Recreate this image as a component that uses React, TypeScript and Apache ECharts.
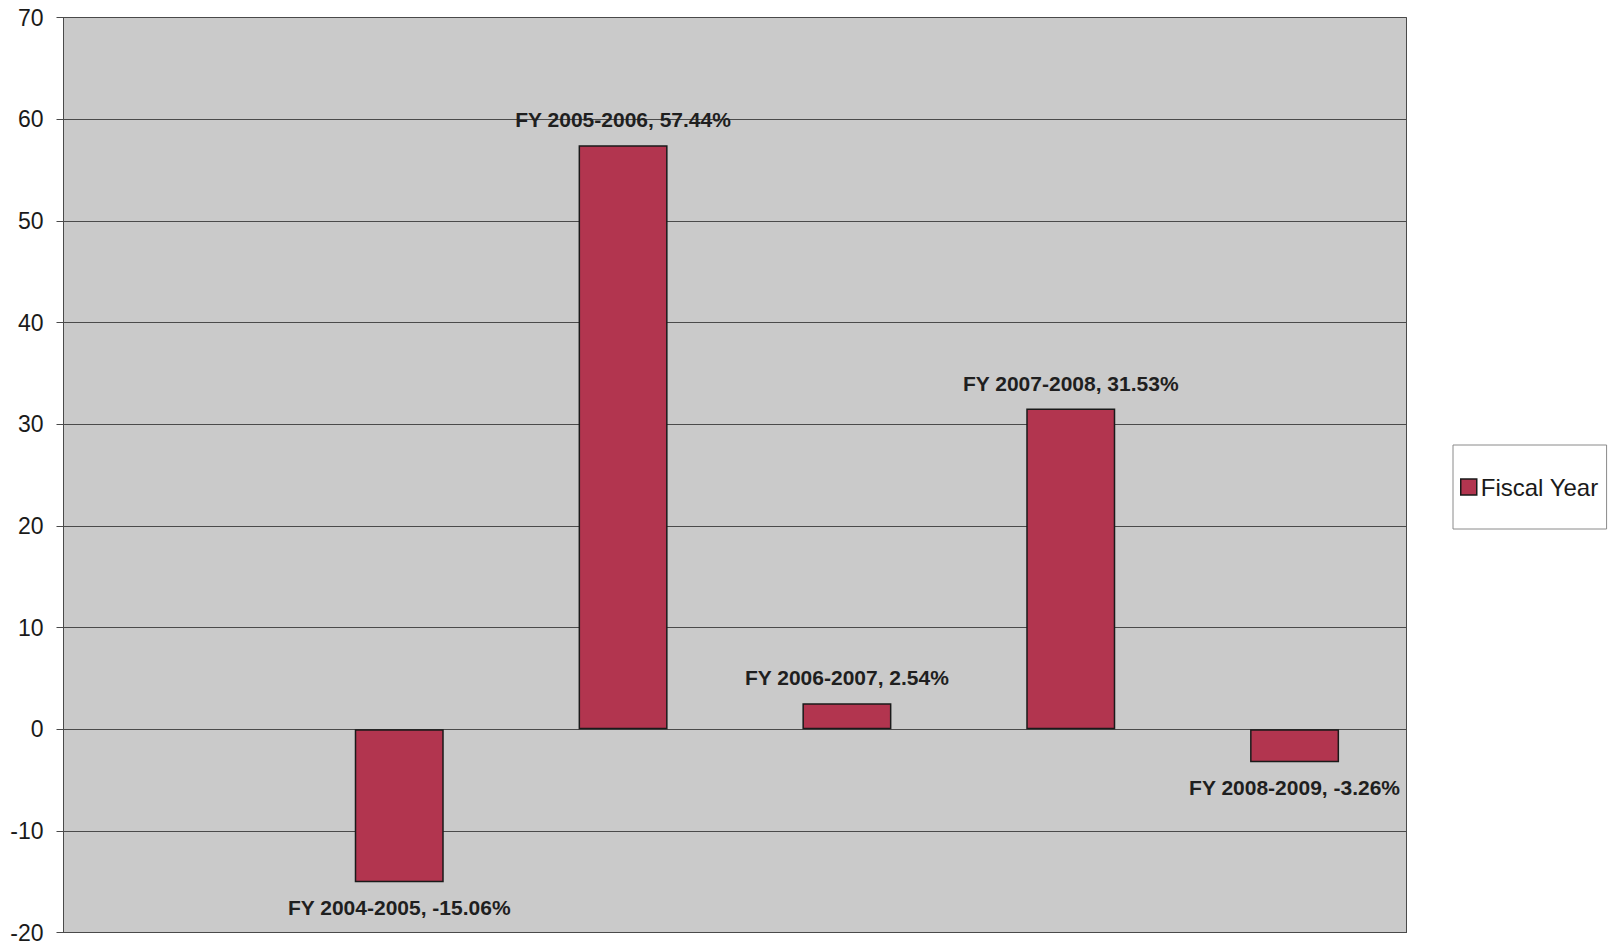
import React, { useEffect, useRef } from "react";
import * as echarts from "echarts";

const categories = ["", "FY 2004-2005", "FY 2005-2006", "FY 2006-2007", "FY 2007-2008", "FY 2008-2009"];
const values: (number | null)[] = [null, -15.06, 57.44, 2.54, 31.53, -3.26];
const seriesName = "Fiscal Year";
const yMin = -20;
const yMax = 70;
const yInterval = 10;

export default function App() {
  const ref = useRef<HTMLDivElement>(null);
  useEffect(() => {
    if (!ref.current) return;
    const chart = echarts.init(ref.current, null, { renderer: "svg" });
    const font = "Liberation Sans, Arial, sans-serif";
    chart.setOption({
      animation: false,
      backgroundColor: "#ffffff",
      grid: {
        left: 63.5,
        top: 17.5,
        width: 1343,
        height: 915,
        show: true,
        backgroundColor: "#cacaca",
        borderColor: "#4a4a4a",
        borderWidth: 1,
      },
      legend: {
        show: true,
        data: [seriesName],
        left: 1453,
        top: 445,
        orient: "vertical",
        backgroundColor: "#ffffff",
        borderColor: "#8a8a8a",
        borderWidth: 1,
        padding: [30, 8, 30, 7],
        itemWidth: 16,
        itemHeight: 16,
        icon: "rect",
        itemStyle: { borderColor: "#1a1a1a", borderWidth: 1.5 },
        textStyle: { fontFamily: font, fontSize: 24, color: "#1a1a1a", padding: [0, 0, 0, -1] },
      },
      xAxis: {
        type: "category",
        data: categories,
        axisLine: { show: true, onZero: false, lineStyle: { color: "#4a4a4a", width: 1 } },
        axisTick: { show: false },
        axisLabel: { show: false },
        splitLine: { show: false },
      },
      yAxis: {
        type: "value",
        min: yMin,
        max: yMax,
        interval: yInterval,
        axisLine: { show: true, lineStyle: { color: "#4a4a4a", width: 1 } },
        axisTick: { show: true, length: 7, lineStyle: { color: "#4a4a4a" } },
        axisLabel: { fontFamily: font, fontSize: 23, color: "#1a1a1a", margin: 20 },
        splitLine: { show: true, lineStyle: { color: "#4a4a4a", width: 1 } },
      },
      series: [
        {
          name: seriesName,
          type: "bar",
          barWidth: 89,
          data: values.map((v) => ({
            value: v,
            label: { position: v !== null && v < 0 ? "bottom" : "top" },
          })),
          itemStyle: { color: "#b2354f", borderColor: "#1a1a1a", borderWidth: 1.5 },
          label: {
            show: true,
            distance: 15,
            formatter: (p: any) => `${p.name}, ${p.value}%`,
            fontFamily: font,
            fontSize: 21,
            fontWeight: "bold",
            color: "#1f1f1f",
          },
        },
      ],
    });
    return () => chart.dispose();
  }, []);
  return <div ref={ref} style={{ position: "absolute", left: 0, top: 0, width: 1611, height: 945 }} />;
}
